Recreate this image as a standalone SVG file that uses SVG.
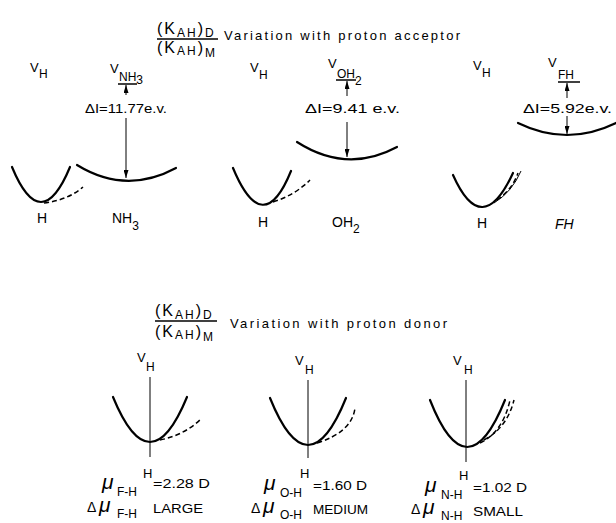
<svg xmlns="http://www.w3.org/2000/svg" width="616" height="523" viewBox="0 0 616 523">
<style>
text{font-family:"Liberation Sans","DejaVu Sans",Arial,sans-serif;fill:#000}
.t{font-size:13px}
.v{font-size:13px}
.sub{font-size:12px}
.lab{font-size:14px}
.it{font-style:italic}
.big{font-size:16px}
.mu{font-size:21px;font-style:italic}
.dl{font-size:14px}
.c{fill:none;stroke:#000;stroke-width:2.2;stroke-linecap:round}
.d{fill:none;stroke:#000;stroke-width:1.5;stroke-dasharray:5 3}
.l{fill:none;stroke:#000;stroke-width:1}
.bar{stroke:#000;stroke-width:1.5}
</style>
<defs>
<marker id="ah" markerWidth="8" markerHeight="5" refX="8" refY="2.5" orient="auto" markerUnits="userSpaceOnUse"><path d="M0,0 L8,2.5 L0,5z"/></marker>
</defs>

<g id="header-acceptor">
<text class="big" x="157" y="34" letter-spacing="2">(K<tspan class="sub" y="37">AH</tspan><tspan y="34">)</tspan><tspan class="sub" y="37">D</tspan></text>
<line class="bar" x1="157" y1="39" x2="218" y2="39"/>
<text class="big" x="157" y="53" letter-spacing="2">(K<tspan class="sub" y="55">AH</tspan><tspan y="53">)</tspan><tspan class="sub" y="57">M</tspan></text>
<text class="t" x="224" y="40" textLength="236" lengthAdjust="spacing">Variation with proton acceptor</text>
</g>

<g id="well-H-1">
<text class="v" x="30" y="72">V</text><text class="sub" x="39" y="78">H</text>
<path class="c" d="M12,167 Q41,237 70,167"/>
<path class="d" d="M44,203 Q68,200 83,187"/>
<text class="lab" x="37" y="223">H</text>
</g>
<g id="well-NH3">
<text class="v" x="110" y="73">V</text><text class="sub" x="119" y="81">NH<tspan y="84">3</tspan></text>
<line class="bar" x1="118" y1="84" x2="137" y2="84"/>
<text class="t" x="85" y="113" textLength="82" lengthAdjust="spacingAndGlyphs">ΔI=11.77e.v.</text>
<path class="c" d="M77,165 Q126,195 176,168"/>
<text class="lab" x="112" y="223">NH<tspan class="sub" y="230">3</tspan></text>
</g>

<g id="well-H-2">
<text class="v" x="250" y="72">V</text><text class="sub" x="259" y="79">H</text>
<path class="c" d="M233,168 Q263,240 291,171"/>
<path class="d" d="M273,202 Q295,195 310,180"/>
<text class="lab" x="258" y="227">H</text>
</g>
<g id="well-OH2">
<text class="v" x="328" y="68">V</text><text class="sub" x="337" y="78">OH<tspan y="85">2</tspan></text>
<line class="bar" x1="336" y1="80" x2="356" y2="80"/>
<text class="t" x="305" y="113" textLength="95" lengthAdjust="spacingAndGlyphs">ΔI=9.41 e.v.</text>
<path class="c" d="M297,142 Q347,174 397,147"/>
<text class="lab" x="332" y="227">OH<tspan class="sub" y="233">2</tspan></text>
</g>

<g id="well-H-3">
<text class="v" x="473" y="70">V</text><text class="sub" x="482" y="77">H</text>
<path class="c" d="M453,175 Q482,240 513,173"/>
<path class="d" d="M497,200 Q512,190 518,173"/>
<path class="l" d="M494,203 Q512,192 521,171"/>
<text class="lab" x="477" y="228">H</text>
</g>
<g id="well-FH">
<text class="v" x="548" y="67">V</text><text class="sub" x="558" y="79">FH</text>
<line class="bar" x1="558" y1="82" x2="580" y2="82"/>
<text class="t" x="523" y="113" textLength="89" lengthAdjust="spacingAndGlyphs">ΔI=5.92e.v.</text>
<path class="c" d="M518,123 Q567,147 616,123"/>
<text class="lab it" x="555" y="229">FH</text>
</g>

<g id="header-donor">
<text class="big" x="155" y="316" letter-spacing="2">(K<tspan class="sub" y="319">AH</tspan><tspan y="316">)</tspan><tspan class="sub" y="319">D</tspan></text>
<line class="bar" x1="155" y1="321" x2="217" y2="321"/>
<text class="big" x="155" y="337" letter-spacing="2">(K<tspan class="sub" y="339">AH</tspan><tspan y="337">)</tspan><tspan class="sub" y="341">M</tspan></text>
<text class="t" x="230" y="328" textLength="217" lengthAdjust="spacing">Variation with proton donor</text>
</g>

<g id="donor-FH">
<text class="v" x="137" y="362">V</text><text class="sub" x="146" y="371">H</text>
<path class="c" d="M113,397 Q150,487 187,397"/>
<path class="d" d="M160,440 Q185,435 202,418"/>
<text class="t" x="143" y="478">H</text>
<text class="mu" x="102" y="489">μ</text><text class="sub" x="117" y="496">F-H</text>
<text class="t" x="153" y="488" textLength="57" lengthAdjust="spacingAndGlyphs">=2.28 D</text>
<text class="dl" x="87" y="512">Δ</text><text class="mu" x="99" y="512">μ</text><text class="sub" x="117" y="518">F-H</text>
<text class="t" x="153" y="513" textLength="50" lengthAdjust="spacingAndGlyphs">LARGE</text>
</g>

<g id="donor-OH">
<text class="v" x="295" y="365">V</text><text class="sub" x="305" y="374">H</text>
<path class="c" d="M270,398 Q308,492 346,398"/>
<path class="d" d="M317,443 Q352,432 355,408"/>
<text class="t" x="300" y="478">H</text>
<text class="mu" x="264" y="490">μ</text><text class="sub" x="280" y="497">O-H</text>
<text class="t" x="313" y="490" textLength="54" lengthAdjust="spacingAndGlyphs">=1.60 D</text>
<text class="dl" x="251" y="513">Δ</text><text class="mu" x="263" y="513">μ</text><text class="sub" x="280" y="519">O-H</text>
<text class="t" x="313" y="514" textLength="55" lengthAdjust="spacingAndGlyphs">MEDIUM</text>
</g>

<g id="donor-NH">
<text class="v" x="453" y="365">V</text><text class="sub" x="464" y="374">H</text>
<path class="c" d="M430,400 Q467,494 505,400"/>
<path class="d" d="M480,443 Q503,432 510,400"/>
<path class="d" d="M484,440 Q507,428 514,400"/>
<text class="t" x="459" y="480">H</text>
<text class="mu" x="425" y="492">μ</text><text class="sub" x="441" y="499">N-H</text>
<text class="t" x="473" y="492" textLength="54" lengthAdjust="spacingAndGlyphs">=1.02 D</text>
<text class="dl" x="411" y="514">Δ</text><text class="mu" x="423" y="514">μ</text><text class="sub" x="441" y="520">N-H</text>
<text class="t" x="473" y="516" textLength="50" lengthAdjust="spacingAndGlyphs">SMALL</text>
</g>

<g id="connectors">
<line class="l" x1="126" y1="95" x2="126" y2="85" marker-end="url(#ah)"/>
<line class="l" x1="126" y1="118" x2="126" y2="178" marker-end="url(#ah)"/>
<line class="l" x1="347" y1="96" x2="347" y2="81" marker-end="url(#ah)"/>
<line class="l" x1="347" y1="122" x2="347" y2="157" marker-end="url(#ah)"/>
<line class="l" x1="567" y1="98" x2="567" y2="83" marker-end="url(#ah)"/>
<line class="l" x1="567" y1="116" x2="567" y2="134" marker-end="url(#ah)"/>
<line class="l" x1="150" y1="377" x2="150" y2="457"/>
<line class="l" x1="308" y1="380" x2="308" y2="458"/>
<line class="l" x1="466" y1="380" x2="466" y2="462"/>
</g>
</svg>
